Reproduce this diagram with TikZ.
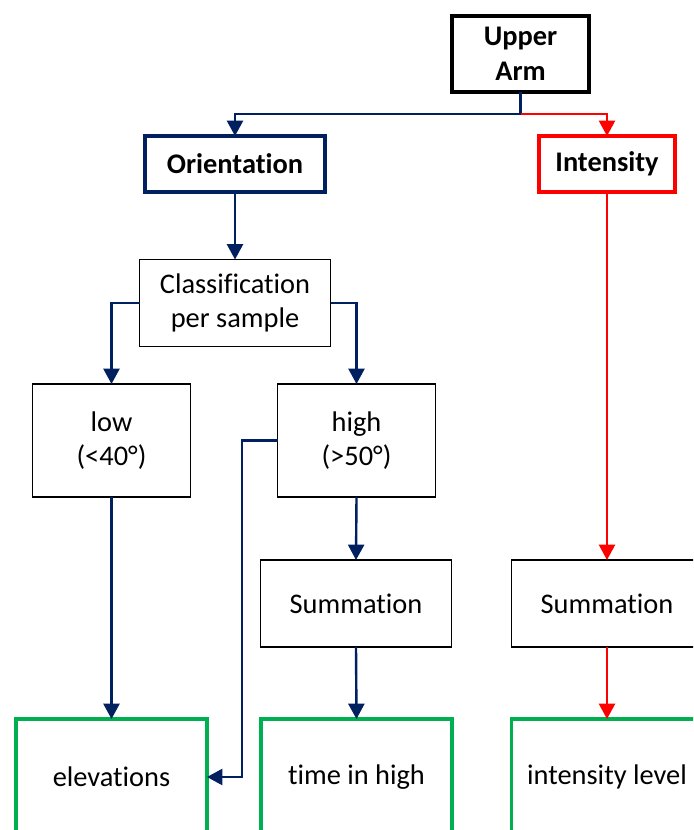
\documentclass[tikz,border=0pt]{standalone}
\usepackage{fontspec}
\setmainfont{Carlito}[RawFeature={-liga;-clig;-dlig;-calt}]
\usetikzlibrary{arrows.meta}
\definecolor{navyline}{HTML}{002060}
\definecolor{redline}{HTML}{FF0000}
\definecolor{greenline}{HTML}{00B050}
\tikzset{
  box/.style={draw=black, line width=1.1pt, fill=white, inner sep=0pt, outer sep=0pt,
    align=center, font=\fontsize{21.3}{26}\selectfont},
  headbox/.style={box, line width=3pt, font=\fontsize{21.3}{26}\selectfont\bfseries},
  resultbox/.style={box, draw=greenline, line width=2.8pt,
    minimum width=143.25pt, minimum height=87pt},
  wide/.style={minimum width=143.25pt, minimum height=65.25pt},
  tall/.style={minimum width=118.5pt, minimum height=84.75pt},
  navyarrow/.style={draw=navyline, line width=1.8pt, -{Triangle[width=12pt,length=11.5pt]}},
  redarrow/.style={draw=redline, line width=1.8pt, -{Triangle[width=12pt,length=11.5pt]}},
}
\begin{document}
\begin{tikzpicture}[x=0.75pt, y=-0.75pt]
  \useasboundingbox (0,0) rectangle (693,830);
  \clip (0,0) rectangle (693,830);

  % top level
  \node[headbox, minimum width=102.75pt, minimum height=57pt] (ua) at (520.5,54) {Upper\\Arm};
  \node[headbox, draw=navyline, minimum width=135pt, minimum height=42pt] (ori) at (235,164) {Orientation};
  \node[headbox, draw=redline, minimum width=102pt, minimum height=42pt] (int) at (607,164) {Intensity};

  % orientation branch
  \node[box, wide] (cls) at (235,303) {Classification\\per sample};
  \node[box, tall] (low) at (111.5,440.5) {low\\(<40°)};
  \node[box, tall] (high) at (356.5,440.5) {high\\(>50°)};
  \node[box, wide] (sum1) at (356,603.5) {Summation};

  % intensity branch
  \node[box, wide] (sum2) at (607,603.5) {Summation};

  % results
  \node[resultbox] (elev) at (111.5,777) {elevations};
  \node[resultbox] (tih) at (356.5,777) {time in high};
  \node[resultbox] (il) at (607,777) {intensity level};

  % connectors
  \coordinate (split) at (520.5,114);
  \coordinate (drop) at (242,440.5);
  \draw[navyline, line width=1.8pt] (ua.south) -- (split);
  \draw[navyarrow] (split) -| (ori.north);
  \draw[redarrow] (split) -| (int.north);
  \draw[navyarrow] (ori.south) -- (cls.north);
  \draw[navyarrow] (cls.west) -| (low.north);
  \draw[navyarrow] (cls.east) -| (high.north);
  \draw[navyarrow] (low.south) -- (elev.north);
  \draw[navyarrow] (high.south) -- (sum1.north);
  \draw[navyarrow] (sum1.south) -- (tih.north);
  \draw[navyarrow] (high.west) -- (drop) |- (elev.east);
  \draw[redarrow] (int.south) -- (sum2.north);
  \draw[redarrow] (sum2.south) -- (il.north);
\end{tikzpicture}
\end{document}
